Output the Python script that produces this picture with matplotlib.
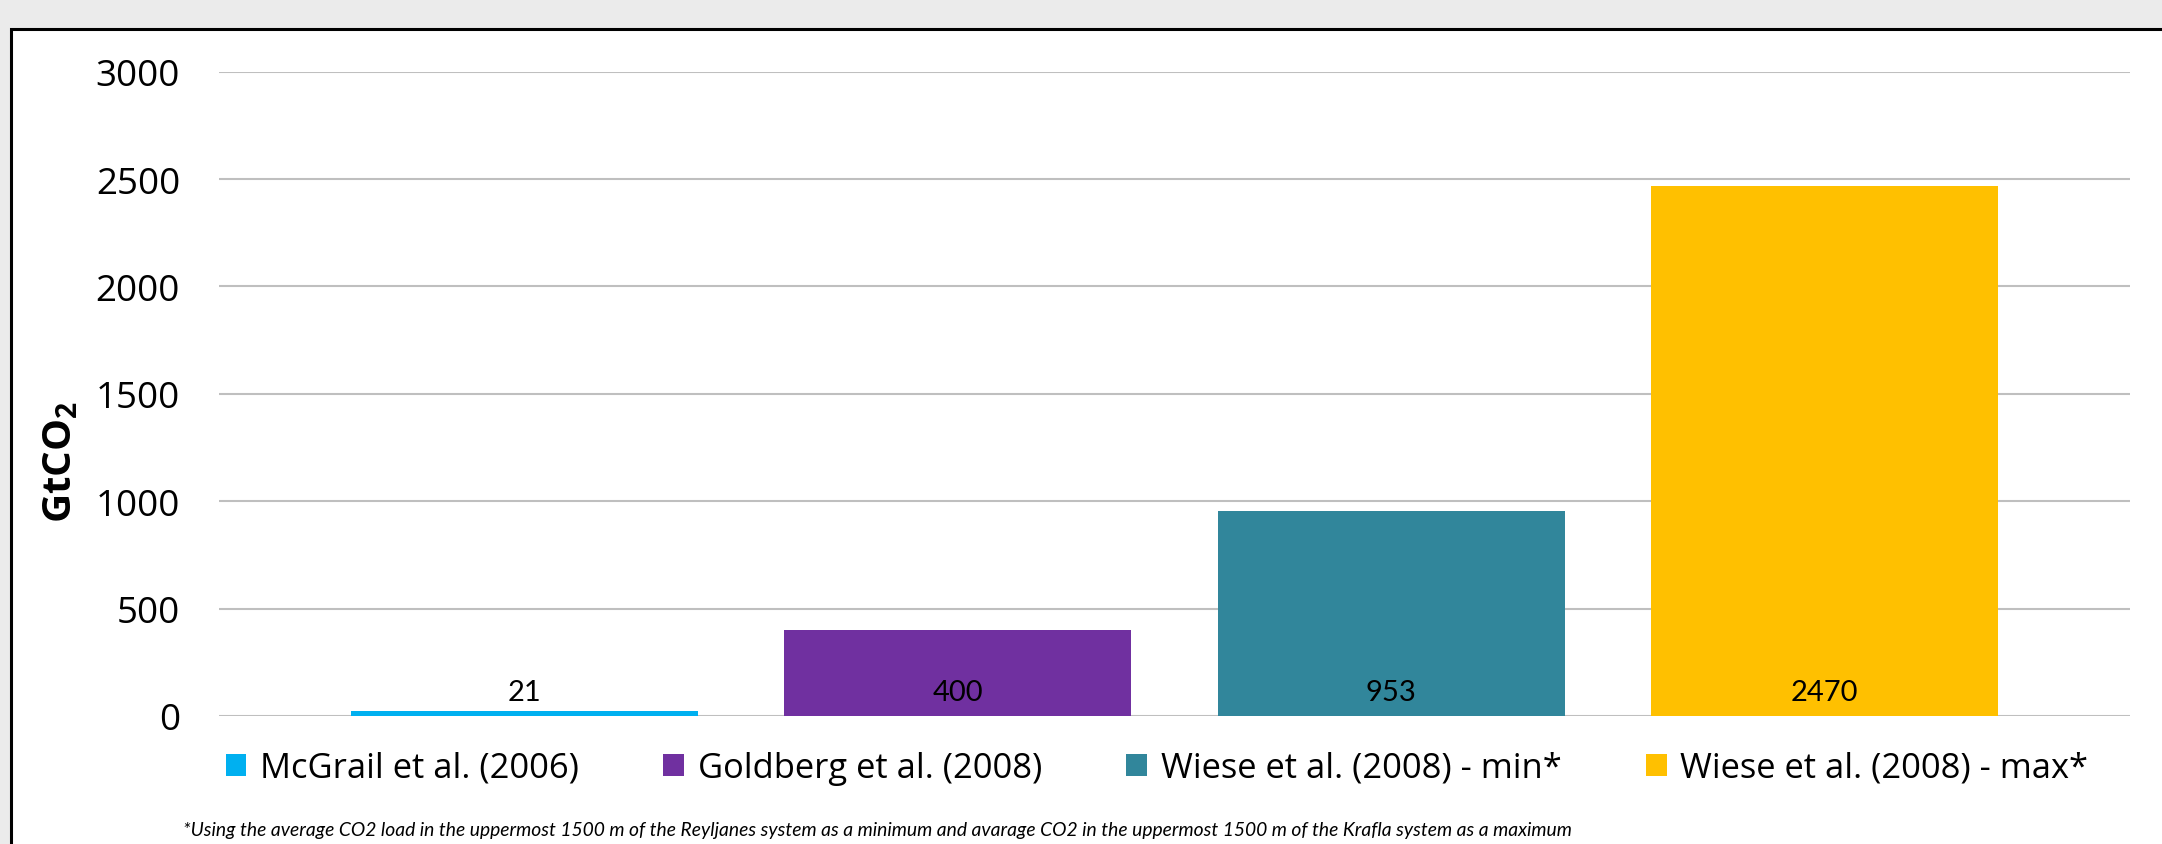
import matplotlib
matplotlib.use("Agg")
import matplotlib.pyplot as plt
from matplotlib.patches import Rectangle

# ---- data ----
series = ["McGrail et al. (2006)", "Goldberg et al. (2008)",
          "Wiese et al. (2008) - min*", "Wiese et al. (2008) - max*"]
values = [21, 400, 953, 2470]
colors = ["#00B0F0", "#7030A0", "#31869B", "#FFC000"]
yticks = [0, 500, 1000, 1500, 2000, 2500, 3000]
ylabel = r"$\mathbf{GtCO_2}$"
footnote = ("*Using the average CO2 load in the uppermost 1500 m of the Reyljanes system as a minimum "
            "and avarage CO2 in the uppermost 1500 m of the Krafla system as a maximum")

W, H = 2162, 845
plt.rcParams['mathtext.fontset'] = 'custom'
plt.rcParams['mathtext.rm'] = 'Open Sans'
plt.rcParams['mathtext.bf'] = 'Open Sans:bold'

fig = plt.figure(figsize=(W / 100, H / 100), dpi=100)
fig.patch.set_facecolor('#EBEBEB')
frame = Rectangle((11 / W, -0.2), 1.5, (1 - 30 / H) + 0.2, transform=fig.transFigure,
                  facecolor='white', edgecolor='black', linewidth=2.2, zorder=-10)
fig.patches.append(frame)

ax = fig.add_axes([219 / W, 1 - 717 / H, (2130 - 219) / W, (717 - 72.7) / H])
ax.set_facecolor('none')
ax.set_zorder(1)

n = len(values)
for i, (s, v, c) in enumerate(zip(series, values, colors)):
    x = i - (n - 1) / 2
    ax.bar(x, v, width=0.8, color=c, label=s, zorder=3)
    ax.annotate(str(v), xy=(x, 0), xytext=(0, 11.5), textcoords='offset points',
                ha='center', va='baseline', fontsize=21, family='Lato', color='black', zorder=4)

ax.set_xlim(-2.204, 2.204)
ax.set_ylim(0, 3000)
ax.set_yticks(yticks)
ax.set_yticklabels([str(t) for t in yticks], family='Open Sans', fontsize=26.5)
ax.tick_params(axis='y', length=0, pad=28)
ax.set_xticks([])
for sp in ax.spines.values():
    sp.set_visible(False)
ax.yaxis.grid(True, color='#BFBFBF', linewidth=1.5, zorder=0)
ax.set_axisbelow(True)

fig.text(60 / W, 1 - 462 / H, ylabel, rotation=90, ha='center', va='center', fontsize=29)

leg = fig.legend(loc='center', bbox_to_anchor=(1157 / W, 1 - 769 / H), ncol=4, frameon=False,
                 prop={'family': 'Open Sans', 'size': 24.8}, handlelength=0.6, handleheight=0.6,
                 handletextpad=0.4, columnspacing=2.45, borderpad=0)

fig.text(183 / W, 1 - 831 / H, footnote, ha='left', va='center', fontsize=13.9,
         family='Lato', style='italic')

fig.savefig('out.png', dpi=100, facecolor=fig.get_facecolor())
